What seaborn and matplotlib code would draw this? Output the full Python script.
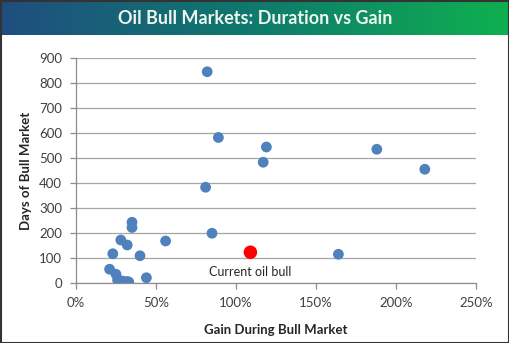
import numpy as np
import pandas as pd
import matplotlib
matplotlib.use("Agg")
import matplotlib.pyplot as plt
from matplotlib.colors import LinearSegmentedColormap
from matplotlib.patches import Rectangle
import seaborn as sns

# Past oil bull markets: gain (%) and duration (days)
gain_pct = [82, 89, 119, 117, 188, 218, 81, 85, 164,
            35, 35, 28, 32, 56, 23, 40, 21, 25, 44, 26, 29, 32, 33]
days = [845, 582, 544, 483, 535, 455, 383, 199, 115,
        243, 222, 172, 152, 168, 117, 109, 55, 35, 21, 12, 8, 6, 4]

# Current bull market
current_gain = [109]
current_days = [123]
current_label = "Current oil bull"

title = "Oil Bull Markets: Duration vs Gain"
x_label = "Gain During Bull Market"
y_label = "Days of Bull Market"
x_ticks = [0, 50, 100, 150, 200, 250]
y_ticks = [0, 100, 200, 300, 400, 500, 600, 700, 800, 900]

past = pd.DataFrame({"gain": gain_pct, "days": days})
current = pd.DataFrame({"gain": current_gain, "days": current_days})

sns.set_theme(style="white")
plt.rcParams["font.family"] = ["Lato", "DejaVu Sans"]

W, H = 510, 343
fig = plt.figure(figsize=(W / 100, H / 100), dpi=100)
fig.patch.set_facecolor("white")

# Title banner with blue-to-green gradient
banner = fig.add_axes([0, 1 - 35 / H, 1, 35 / H])
grad = LinearSegmentedColormap.from_list("banner", ["#1f4e80", "#0e7a6c", "#0fb050"])
banner.imshow(np.linspace(0, 1, 256)[None, :], aspect="auto", cmap=grad,
              extent=[0, 1, 0, 1])
banner.set_axis_off()
banner.text(0.5, 0.48, title, ha="center", va="center", color="#eef6ee",
            fontsize=13, fontweight="bold", transform=banner.transAxes)

ax = fig.add_axes([76 / W, 1 - 283 / H, 400 / W, 225 / H])
sns.scatterplot(data=past, x="gain", y="days", ax=ax, color="#4f81bd",
                s=60, edgecolor="none", zorder=3)
sns.scatterplot(data=current, x="gain", y="days", ax=ax, color="#ff0000",
                s=95, edgecolor="none", zorder=4)
ax.annotate(current_label, (current_gain[0], current_days[0]),
            xytext=(0, -14), textcoords="offset points", ha="center",
            va="center", fontsize=9, color="#262626")

ax.set_xlim(0, 250)
ax.set_ylim(0, 900)
ax.set_xticks(x_ticks)
ax.set_xticklabels([f"{t}%" for t in x_ticks])
ax.set_yticks(y_ticks)
ax.grid(axis="y", color="#a6a6a6", linewidth=0.9)
ax.grid(axis="x", visible=False)
ax.set_axisbelow(True)
for side in ["top", "right"]:
    ax.spines[side].set_visible(False)
for side in ["left", "bottom"]:
    ax.spines[side].set_color("#8c8c8c")
    ax.spines[side].set_linewidth(0.9)
ax.tick_params(axis="both", which="both", direction="out", length=4,
               width=0.9, color="#8c8c8c", labelsize=9.5, labelcolor="#404040",
               left=True, bottom=True, pad=6)
ax.set_xlabel(x_label, fontsize=9.5, fontweight="bold", color="#262626", labelpad=11)
ax.set_ylabel(y_label, fontsize=9.5, fontweight="bold", color="#262626", labelpad=5)

# Outer frame
fig.add_artist(Rectangle((0.001, 0.001), 0.997, 0.997, transform=fig.transFigure,
                         fill=False, edgecolor="#333333", linewidth=1.5))

fig.savefig("out.png", dpi=100)
